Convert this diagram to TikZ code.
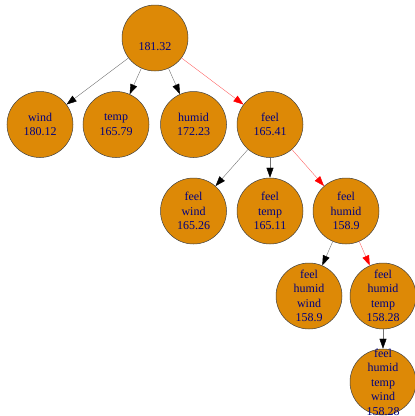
\documentclass[tikz,border=0pt]{standalone}
\usepackage{fontspec}
\setmainfont{Liberation Serif}
\usepackage{tikz}
\usetikzlibrary{arrows.meta}
\usepackage{xcolor}
\definecolor{nodefill}{RGB}{221,137,6}
\definecolor{nodeink}{RGB}{0,0,128}

\begin{document}
\begin{tikzpicture}[x=1pt, y=-1pt, state/.style={circle,draw=black!75,line width=0.5pt,fill=nodefill,text=nodeink,minimum size=66pt,inner sep=0pt,align=center,font=\fontsize{12}{14.5}\selectfont}, edge/.style={draw=black!55,line width=0.4pt,-{Triangle[length=10pt,width=7pt,color=black]}}, best/.style={draw=red!60,line width=0.4pt,-{Triangle[length=10pt,width=7pt,color=red]}}]
        \useasboundingbox (0,0) rectangle (415,416);
        \node at (155,38) [state] (root) {\strut\\181.32};
        \node at (40,124.5) [state] (wind) {wind\\180.12};
        \node at (116,124.5) [state] (temp) {temp\\165.79};
        \node at (193.5,124.5) [state] (humid) {humid\\172.23};
        \node at (270,124.5) [state] (feel) {feel\\165.41};
        \node at (193.5,211) [state] (feelwind) {feel\\wind\\165.26};
        \node at (270,211) [state] (feeltemp) {feel\\temp\\165.11};
        \node at (346,211) [state] (feelhumid) {feel\\humid\\158.9};
        \node at (309,296) [state] (fhwind) {feel\\humid\\wind\\158.9};
        \node at (383,296) [state] (fhtemp) {feel\\humid\\temp\\158.28};
        \node at (383,382) [state,inner sep=-6pt] (fhtwind) {feel\\humid\\temp\\wind\\158.28};
        \draw[edge] (root) -- (wind);
        \draw[edge] (root) -- (temp);
        \draw[edge] (root) -- (humid);
        \draw[best] (root) -- (feel);
        \draw[edge] (feel) -- (feelwind);
        \draw[edge] (feel) -- (feeltemp);
        \draw[best] (feel) -- (feelhumid);
        \draw[edge] (feelhumid) -- (fhwind);
        \draw[best] (feelhumid) -- (fhtemp);
        \draw[edge] (fhtemp) -- (fhtwind);
    \end{tikzpicture}
\end{document}
